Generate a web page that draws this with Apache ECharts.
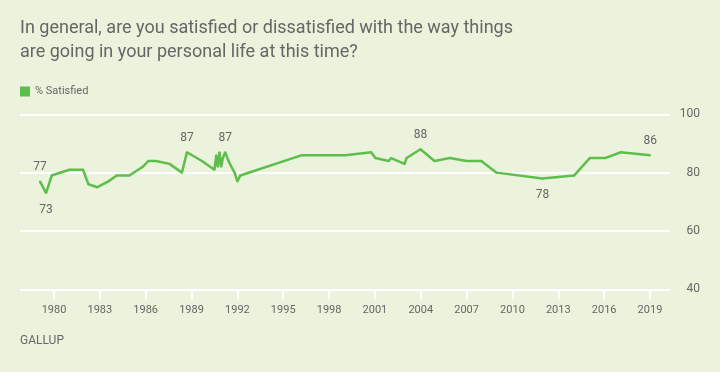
<!DOCTYPE html>
<html>
<head>
<meta charset="utf-8">
<script src="https://cdn.jsdelivr.net/npm/echarts@6/dist/echarts.min.js"></script>
<style>
html,body{margin:0;padding:0;background:#ECF3DC;}
#chart{width:720px;height:372px;}
</style>
</head>
<body>
<div id="chart"></div>
<script>
// Survey dates (decimal years) and % satisfied
var years = [1979.08,1979.48,1979.85,1981.0,1981.9,1982.25,1982.84,1983.56,1984.1,1984.93,
  1985.81,1986.18,1986.68,1987.56,1988.37,1988.7,1989.68,1990.5,1990.62,1990.72,
  1990.83,1990.94,1991.05,1991.2,1991.42,1991.71,1991.82,1992.0,1992.19,1996.23,
  1999.07,2000.75,2001.03,2001.9,2002.06,2002.94,2003.07,2003.98,2004.9,2005.9,
  2007.0,2007.96,2008.96,2011.96,2014.03,2015.06,2016.06,2017.09,2019.01];
var satisfied = [77,73,79,81,81,76,75,77,79,79,
  82,84,84,83,80,87,84,81,86,82,
  87,82,85,87,84,81,80,77,79,86,
  86,87,85,84,85,83,85,88,84,85,
  84,84,80,78,79,85,85,87,86];
// Labeled points: index -> label position
var labeledIdx = {0:'top',1:'bottom',15:'top',23:'top',37:'top',43:'bottom',48:'top'};
var yearTicks = [1980,1983,1986,1989,1992,1995,1998,2001,2004,2007,2010,2013,2016,2019];
var seriesName = '% Satisfied';
var titleText = 'In general, are you satisfied or dissatisfied with the way things\nare going in your personal life at this time?';

var lineColor = '#5EBE4C';
var data = years.map(function(y,i){
  var item = {value:[y, satisfied[i]]};
  if (labeledIdx[i]) {
    item.label = {show:true, position:labeledIdx[i], distance: labeledIdx[i]==='top'?7:10,
      color:'#666', fontSize:12, fontFamily:'Roboto'};
  }
  return item;
});

var chart = echarts.init(document.getElementById('chart'), null, {renderer:'canvas'});
chart.setOption({
  backgroundColor:'#ECF3DC',
  animation:false,
  title:{text:titleText,left:20,top:16,padding:0,
    textStyle:{color:'#666',fontSize:18,fontWeight:'normal',lineHeight:24,fontFamily:'Roboto'}},
  legend:{left:20,top:86,padding:0,icon:'rect',itemWidth:10,itemHeight:10,itemGap:10,
    itemStyle:{color:lineColor,opacity:1},
    textStyle:{color:'#666',fontSize:11,fontFamily:'Roboto'},data:[seriesName]},
  grid:{left:20,right:50,top:114.3,bottom:82.7,containLabel:false},
  xAxis:{type:'value',min:1977.775,max:2020.31,
    axisLine:{show:false},
    splitLine:{show:false},
    axisTick:{show:true,customValues:yearTicks,length:10,lineStyle:{color:'#fff',width:2}},
    axisLabel:{customValues:yearTicks,color:'#666',fontSize:11,margin:15,fontFamily:'Roboto',
      formatter:function(v){return String(v);}}
  },
  yAxis:{type:'value',position:'right',min:40,max:100,interval:20,
    axisLine:{show:false},axisTick:{show:false},
    splitLine:{show:true,lineStyle:{color:'#fff',width:2}},
    axisLabel:{color:'#666',fontSize:12,align:'right',margin:30,fontFamily:'Roboto'}
  },
  series:[{name:seriesName,type:'line',data:data,showSymbol:true,showAllSymbol:true,
    symbol:'circle',symbolSize:2,
    color:lineColor,itemStyle:{color:lineColor},lineStyle:{color:lineColor,width:2.5},
    label:{show:false},
    labelLayout:{hideOverlap:false}}],
  graphic:[{type:'text',left:20,top:335,style:{text:'GALLUP',fill:'#666',fontSize:12,fontFamily:'Roboto'}}]
});
</script>
</body>
</html>
